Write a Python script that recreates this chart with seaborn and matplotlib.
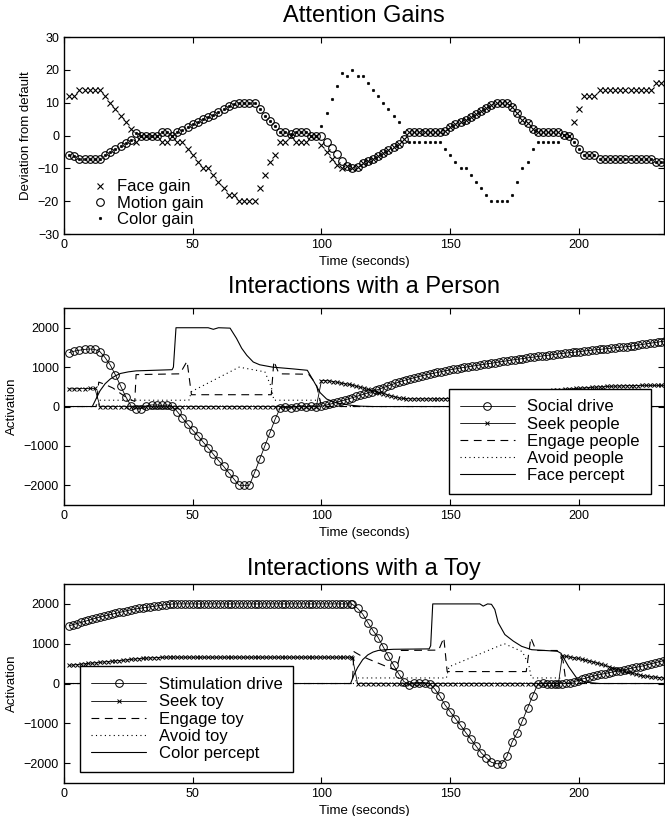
import numpy as np
import seaborn as sns
import matplotlib.pyplot as plt

# ---------------- Attention gains (sampled every 2 s) ----------------
gain_time = np.arange(2, 235, 2)

face_gain = [
    12, 12, 14, 14, 14, 14, 14, 12, 10, 8,
    6, 4, 2, -2, 0, 0, 0, 0, -2, -2,
    0, -2, -2, -4, -6, -8, -10, -10, -12, -14,
    -16, -18, -18, -20, -20, -20, -20, -16, -12, -8,
    -6, -2, -2, 0, -2, -2, -2, 0, 0, -3,
    -5, -7, -9, -10,
    -9.3, -10, -9.5, -8.5, -7.8, -7, -6.2, -5.4, -4.5, -3.5,
    -2.5, -1, 1, 1, 1, 1, 1, 1, 1, 1.5,
    2.5, 3.4, 4, 4.8, 5.6, 6.5, 7.4, 8.3, 9.3, 10,
    10, 10, 8.8, 6.8, 4.8, 3.8, 2, 1, 1, 1,
    1, 1, 0.3, 0,
    4, 8, 12, 12, 12, 14, 14, 14, 14, 14,
    14, 14, 14, 14, 14, 14, 16, 16, 16,
]

motion_gain = [
    -6, -6.3, -7, -7, -7, -7, -7, -5.8, -5, -4,
    -3.2, -2.3, -1.5, 0.8, 0, 0, 0, 0, 1, 1,
    0, 1, 1.8, 2.7, 3.5, 4.2, 5, 5.6, 6.4, 7.2,
    8, 9, 9.5, 10, 10, 10, 10, 8, 6, 4.5,
    3, 1, 1, 0.5, 1, 1, 1, 0, 0, 0,
    -2, -3.7, -5.7, -7.8,
    -9.3, -10, -9.5, -8.5, -7.8, -7, -6.2, -5.4, -4.5, -3.5,
    -2.5, -1, 1, 1, 1, 1, 1, 1, 1, 1.5,
    2.5, 3.4, 4, 4.8, 5.6, 6.5, 7.4, 8.3, 9.3, 10,
    10, 10, 8.8, 6.8, 4.8, 3.8, 2, 1, 1, 1,
    1, 1, 0.3, 0,
    -2, -4, -6, -6, -6, -7, -7, -7, -7, -7,
    -7, -7, -7, -7, -7, -7, -8, -8, -8,
]

color_gain = [
    -6, -6.3, -7, -7, -7, -7, -7, -5.8, -5, -4,
    -3.2, -2.3, -1.5, 0.8, 0, 0, 0, 0, 1, 1,
    0, 1, 1.8, 2.7, 3.5, 4.2, 5, 5.6, 6.4, 7.2,
    8, 9, 9.5, 10, 10, 10, 10, 8, 6, 4.5,
    3, 1, 1, 0.5, 1, 1, 1, 0, 0,
    3, 7, 11, 15, 19, 18, 20, 18, 18, 16,
    14, 12, 10, 8, 6, 4, 1, -2, -2, -2,
    -2, -2, -2, -2, -4, -6, -8, -10, -10, -12,
    -14, -16, -18, -20, -20, -20, -20, -18, -14, -10,
    -8, -4, -2, -2, -2, -2, -2,
    0.3, 0, -2, -4, -6, -6, -6, -7, -7, -7,
    -7, -7, -7, -7, -7, -7, -7, -7, -8, -8, -8,
]

# ---------------- Interactions with a person ----------------
person_time = np.concatenate([np.arange(2, 100, 2), np.arange(100, 234, 1.5)])

social_drive = [
    1370, 1405, 1430, 1450, 1460, 1450, 1390, 1240, 1050, 800,
    520, 250, 20, -60, -50, 20, 40, 40, 30, 40,
    10, -130, -290, -450, -600, -740, -900, -1050, -1210, -1370,
    -1520, -1680, -1840, -2000, -2000, -2000, -1680, -1340, -1000, -660,
    -320, -30, -20, -30, 0, 20, 0, 20, 0,
    10, 30, 55, 80, 110, 140, 165, 195, 225, 255,
    285, 315, 345, 380, 410, 445, 480, 515, 550, 585,
    620, 650, 680, 705, 730, 755, 780, 805, 825, 845,
    865, 885, 905, 925, 945, 960, 980, 995, 1010, 1025,
    1040, 1055, 1070, 1085, 1100, 1115, 1130, 1145, 1160, 1175,
    1190, 1205, 1215, 1230, 1245, 1255, 1270, 1280, 1295, 1305,
    1320, 1330, 1345, 1355, 1365, 1375, 1385, 1395, 1410, 1420,
    1430, 1440, 1450, 1460, 1470, 1480, 1490, 1500, 1510, 1520,
    1530, 1545, 1560, 1575, 1590, 1605, 1620, 1635, 1650, 1665,
]

seek_people = [
    450, 450, 455, 455, 460, 460, 0, 0, 0, 0,
    0, 0, 0, 0, 0, 0, 0, 0, 0, 0,
    0, 0, 0, 0, 0, 0, 0, 0, 0, 0,
    0, 0, 0, 0, 0, 0, 0, 0, 0, 0,
    0, 0, 0, 0, 0, 0, 0, 0, 0,
    660, 660, 650, 635, 615, 595, 580, 565, 545, 515,
    490, 465, 435, 405, 380, 355, 330, 300, 270, 245,
    220, 205, 200, 195, 195, 195, 195, 195, 195, 195,
    195, 195, 200, 200, 205, 205, 210, 215, 220, 225,
    230, 235, 240, 245, 250, 260, 270, 280, 290, 300,
    310, 320, 330, 340, 350, 360, 370, 380, 390, 400,
    410, 418, 426, 434, 442, 450, 458, 465, 472, 479,
    486, 492, 498, 504, 509, 514, 518, 522, 525, 528,
    530, 532, 533, 534, 535, 535, 535, 535, 535, 535,
]

engage_people_t = [0, 12.5, 13.5, 16, 19, 22, 25, 27.5, 28, 45, 47.8, 49.5, 50,
                   80.5, 81.5, 83.5, 95, 98, 100, 234]
engage_people = [0, 0, 620, 560, 470, 330, 200, 130, 810, 830, 1150, 300, 300,
                 300, 1150, 830, 820, 560, 0, 0]

avoid_people_t = [0, 13, 14, 48.5, 49.5, 68, 78, 80.5, 81.5, 99.5, 100, 234]
avoid_people = [0, 0, 160, 160, 380, 1000, 880, 500, 160, 160, 0, 0]

face_percept_t = [0, 11, 12.5, 14, 16, 18, 20, 22, 25, 28,
                  35, 42, 42.5, 43.5, 56, 58, 60, 64.5, 67, 69,
                  71, 73.5, 76, 81, 89, 94.5, 97, 99.5, 102, 106,
                  111, 115, 120, 234]
face_percept = [0, 0, 200, 400, 580, 700, 780, 840, 880, 905,
                920, 935, 1000, 2000, 2000, 1960, 2000, 1990, 1730, 1480,
                1300, 1130, 1060, 1000, 955, 920, 640, 350, 190, 90,
                35, 10, 0, 0]

# ---------------- Interactions with a toy ----------------
toy_time = np.concatenate([np.arange(2, 112, 1.5), np.arange(112, 186, 2),
                           np.arange(186, 234.5, 1.5)])

stimulation_drive = [
    1450, 1478, 1506, 1534, 1562, 1590, 1617, 1645, 1672, 1695,
    1717, 1740, 1762, 1785, 1807, 1830, 1852, 1870, 1885, 1900,
    1913, 1927, 1940, 1953, 1966, 1980, 1993, 2000,
    2000, 2000, 2000, 2000, 2000, 2000, 2000, 2000, 2000, 2000,
    2000, 2000, 2000, 2000, 2000, 2000, 2000, 2000, 2000, 2000,
    2000, 2000, 2000, 2000, 2000, 2000, 2000, 2000, 2000, 2000,
    2000, 2000, 2000, 2000, 2000, 2000, 2000, 2000, 2000, 2000,
    2000, 2000, 2000, 2000, 2000, 2000,
    1990, 1890, 1745, 1530, 1330, 1155, 920, 680, 460, 240,
    50, -30, 20, 25, 25, -10, -140, -320, -540, -710,
    -880, -1050, -1230, -1400, -1570, -1740, -1870, -1980, -2015, -2015,
    -1830, -1470, -1240, -935, -620, -310, -10,
    10, 0, 0, 0, 0, 0, 10, 20, 45, 75,
    110, 135, 160, 185, 210, 230, 250, 270, 290, 305,
    325, 345, 365, 385, 405, 425, 445, 470, 495, 520,
    545, 570, 595,
]

seek_toy = [
    455, 465, 475, 485, 495, 505, 515, 522, 532, 540,
    550, 560, 568, 576, 585, 595, 605, 615, 625, 632,
    638, 643, 648, 652, 656, 660, 663, 665,
    660, 660, 660, 660, 660, 660, 660, 660, 660, 660,
    660, 660, 660, 660, 660, 660, 660, 660, 660, 660,
    660, 660, 660, 660, 660, 660, 660, 660, 660, 660,
    660, 660, 660, 660, 660, 660, 660, 660, 660, 660,
    660, 660, 660, 660, 660, 660,
    650, 0, 0, 0, 0, 0, 0, 0, 0, 0,
    0, 0, 0, 0, 0, 0, 0, 0, 0, 0,
    0, 0, 0, 0, 0, 0, 0, 0, 0, 0,
    0, 0, 0, 0, 0, 0, 0,
    0, 0, 0, 0, 0, 690, 680, 665, 650, 630,
    610, 590, 565, 540, 515, 485, 455, 425, 395, 365,
    335, 305, 280, 255, 235, 215, 195, 178, 168, 158,
    150, 142, 135,
]

engage_toy_t = [0, 112, 112.6, 115, 118, 121, 124, 127, 129, 131,
                145.5, 147.5, 148.8, 179.5, 181.3, 183.3, 191.5, 193.8, 195, 234]
engage_toy = [0, 0, 800, 710, 620, 540, 460, 380, 330, 830,
              840, 1150, 300, 300, 1150, 830, 830, 580, 0, 0]

avoid_toy_t = [0, 113, 113.8, 148.5, 149.5, 171, 178, 180.5, 181.5, 192.5, 193, 234]
avoid_toy = [0, 0, 140, 140, 420, 1000, 800, 470, 140, 140, 0, 0]

color_percept_t = [0, 111.3, 112.5, 114, 116, 118, 120, 122, 125, 128,
                   135, 141.8, 142.4, 143.2, 161.5, 162.8, 164.5, 166, 167.3, 168.6,
                   171.2, 174.5, 177.7, 181.6, 188, 191.6, 193, 196, 199.5, 203,
                   208, 234]
color_percept = [0, 0, 200, 400, 600, 720, 790, 830, 850, 860,
                 865, 870, 950, 2000, 2000, 1945, 2000, 1990, 1860, 1530,
                 1230, 1065, 935, 850, 825, 810, 760, 420, 100, 30,
                 0, 0]

# ---------------- figure ----------------
sns.set_style("ticks")
plt.rcParams['font.family'] = ['Liberation Sans', 'DejaVu Sans']
plt.rcParams['text.color'] = 'black'
plt.rcParams['axes.labelcolor'] = 'black'
plt.rcParams['xtick.color'] = 'black'
plt.rcParams['ytick.color'] = 'black'

fig = plt.figure(figsize=(6.65, 8.16), dpi=100)
ax1 = fig.add_axes([0.0962, 0.7132, 0.9023, 0.2414])
ax2 = fig.add_axes([0.0962, 0.3811, 0.9023, 0.2414])
ax3 = fig.add_axes([0.0962, 0.0404, 0.9023, 0.2439])

# panel 1: markers only
sns.lineplot(x=gain_time, y=face_gain, ax=ax1, linestyle='none', marker='x',
             markersize=4, mec='k', mew=0.8, color='k', label='Face gain')
sns.lineplot(x=gain_time, y=motion_gain, ax=ax1, linestyle='none', marker='o',
             markersize=5.5, mfc='none', mec='k', mew=0.8, color='k', label='Motion gain')
sns.lineplot(x=gain_time, y=color_gain, ax=ax1, linestyle='none', marker='.',
             markersize=3.5, mfc='k', mec='k', mew=0.5, color='k', label='Color gain')
ax1.set_ylim(-30, 30)
ax1.set_yticks([-30, -20, -10, 0, 10, 20, 30])
ax1.set_ylabel('Deviation from default')
ax1.set_title('Attention Gains', fontsize=17, pad=11)
ax1.legend(loc='lower left', bbox_to_anchor=(0.04, 0.02), frameon=False,
           fontsize=12, handlelength=1.0, handletextpad=0.52, labelspacing=0.07,
           borderpad=0.2, borderaxespad=0)


def interaction_panel(ax, t, drive, seek, et, eng, at, avo, pt, per, names, title,
                      title_pad, legend_loc, anchor):
    sns.lineplot(x=t, y=drive, ax=ax, color='k', lw=0.6, marker='o', markersize=5.5,
                 mfc='none', mec='k', mew=0.7, label=names[0])
    sns.lineplot(x=t, y=seek, ax=ax, color='k', lw=0.6, marker='x', markersize=3.5,
                 mec='k', mew=0.7, label=names[1])
    sns.lineplot(x=et, y=eng, ax=ax, color='k', lw=0.8, linestyle=(0, (7, 5)),
                 label=names[2])
    sns.lineplot(x=at, y=avo, ax=ax, color='k', lw=0.8, linestyle=(0, (1, 3)),
                 label=names[3])
    sns.lineplot(x=pt, y=per, ax=ax, color='k', lw=0.8, label=names[4])
    ax.set_ylim(-2500, 2500)
    ax.set_yticks([-2000, -1000, 0, 1000, 2000])
    ax.set_ylabel('Activation')
    ax.set_title(title, fontsize=17, pad=title_pad)
    leg = ax.legend(loc=legend_loc, bbox_to_anchor=anchor, fontsize=12,
                    handlelength=3.3, handletextpad=0.75, labelspacing=0.13,
                    borderpad=0.65, borderaxespad=0, fancybox=False, framealpha=1)
    leg.get_frame().set_edgecolor('k')
    leg.get_frame().set_linewidth(1.0)


interaction_panel(ax2, person_time, social_drive, seek_people,
                  engage_people_t, engage_people, avoid_people_t, avoid_people,
                  face_percept_t, face_percept,
                  ['Social drive', 'Seek people', 'Engage people', 'Avoid people', 'Face percept'],
                  'Interactions with a Person', 11, 'lower right', (0.978, 0.056))
interaction_panel(ax3, toy_time, stimulation_drive, seek_toy,
                  engage_toy_t, engage_toy, avoid_toy_t, avoid_toy,
                  color_percept_t, color_percept,
                  ['Stimulation drive', 'Seek toy', 'Engage toy', 'Avoid toy', 'Color percept'],
                  'Interactions with a Toy', 6.5, 'lower left', (0.027, 0.057))

for ax in (ax1, ax2, ax3):
    ax.set_xlim(0, 233)
    ax.set_xticks([0, 50, 100, 150, 200])
    ax.set_xlabel('Time (seconds)', fontsize=9.5, labelpad=3.5)
    ax.yaxis.label.set_size(9.5)
    ax.tick_params(direction='in', top=True, right=True, length=4, width=0.8,
                   labelsize=9)
    for s in ax.spines.values():
        s.set_visible(True)
        s.set_color('k')
        s.set_linewidth(1.0)

fig.savefig('out.png', dpi=100, facecolor='white')
